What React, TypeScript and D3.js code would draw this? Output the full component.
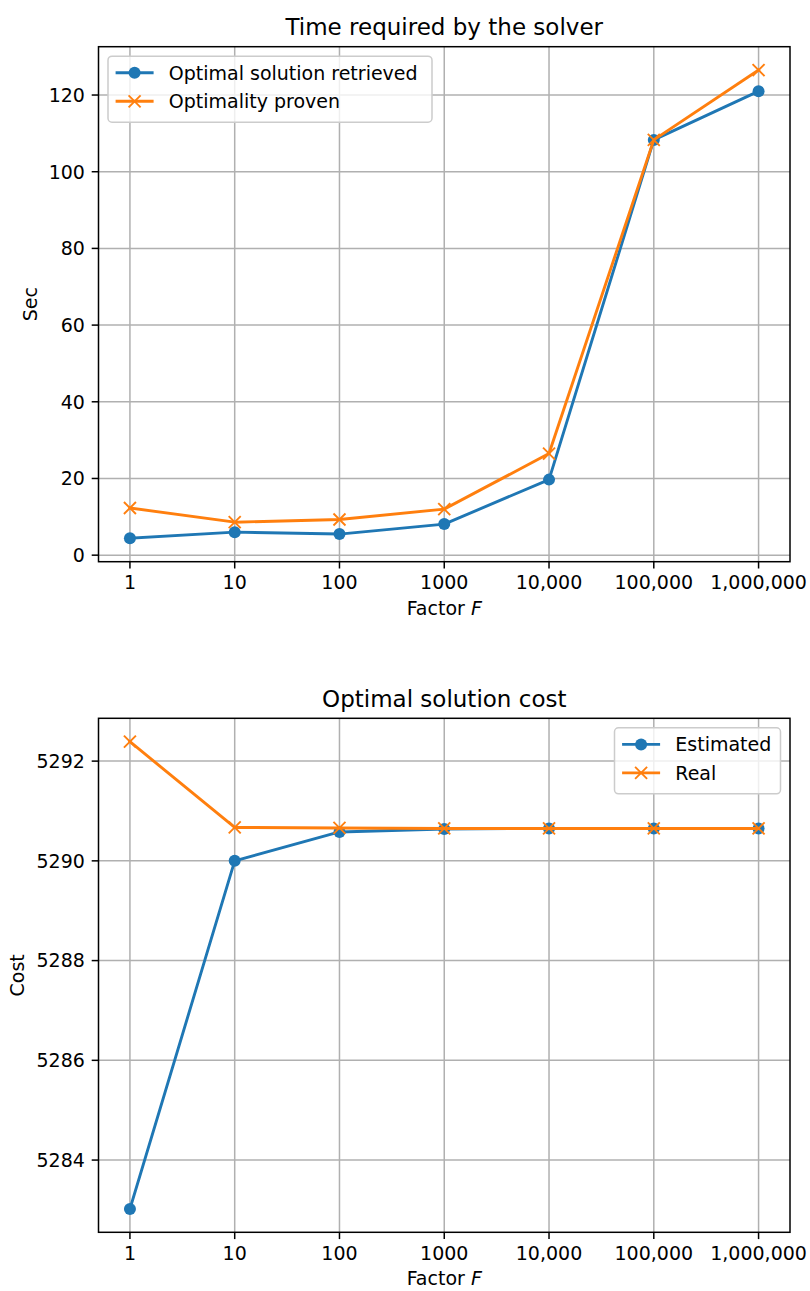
import React from "react";
import * as d3 from "d3";

const factorLabels = ["1", "10", "100", "1000", "10,000", "100,000", "1,000,000"];

const timeRetrieved = [4.4, 6.0, 5.5, 8.1, 19.7, 108.3, 121.0];
const timeProven = [12.3, 8.6, 9.3, 12.0, 26.5, 108.3, 126.5];
const timeTicks = [0, 20, 40, 60, 80, 100, 120];

const costEstimated = [5283.02, 5290.0, 5290.58, 5290.64, 5290.65, 5290.65, 5290.65];
const costReal = [5292.39, 5290.67, 5290.66, 5290.65, 5290.65, 5290.65, 5290.65];
const costTicks = [5284, 5286, 5288, 5290, 5292];

const BLUE = "#1f77b4";
const ORANGE = "#ff7f0e";
const FONT = "DejaVu Sans, sans-serif";
const FS = 19;

type Series = { name: string; values: number[]; color: string; marker: "o" | "x" };

function Marker({ kind, x, y, color }: { kind: "o" | "x"; x: number; y: number; color: string }) {
  if (kind === "o") return <circle cx={x} cy={y} r={6} fill={color} />;
  const s = 6;
  return (
    <g stroke={color} strokeWidth={1.9}>
      <line x1={x - s} y1={y - s} x2={x + s} y2={y + s} />
      <line x1={x - s} y1={y + s} x2={x + s} y2={y - s} />
    </g>
  );
}

function Panel(props: {
  top: number;
  bottom: number;
  title: string;
  ylabel: string;
  ylabelX: number;
  ticks: number[];
  series: Series[];
  legend: "left" | "right";
  legendWidth: number;
}) {
  const { top, bottom, title, ylabel, ylabelX, ticks, series, legend, legendWidth } = props;
  const left = 98.5;
  const right = 790;
  const x = d3.scaleLinear().domain([-0.3, factorLabels.length - 1 + 0.3]).range([left, right]);
  const all = series.flatMap((s) => s.values);
  const [mn, mx] = d3.extent(all) as [number, number];
  const pad = (mx - mn) * 0.05;
  const y = d3.scaleLinear().domain([mn - pad, mx + pad]).range([bottom, top]);
  const line = d3
    .line<number>()
    .x((_, i) => x(i))
    .y((v) => y(v));

  const legRowH = 28.5;
  const legH = 66;
  const legX = legend === "left" ? left + 9.5 : right - 9.5 - legendWidth;
  const legY = top + 9.5;

  return (
    <g fontFamily={FONT}>
      <clipPath id={`clip-${top}`}>
        <rect x={left} y={top} width={right - left} height={bottom - top} />
      </clipPath>
      <g stroke="#b0b0b0" strokeWidth={1.5}>
        {factorLabels.map((_, i) => (
          <line key={i} x1={x(i)} x2={x(i)} y1={top} y2={bottom} />
        ))}
        {ticks.map((t) => (
          <line key={t} x1={left} x2={right} y1={y(t)} y2={y(t)} />
        ))}
      </g>
      <g clipPath={`url(#clip-${top})`}>
        {series.map((s) => (
          <g key={s.name}>
            <path d={line(s.values) || ""} fill="none" stroke={s.color} strokeWidth={2.9} strokeLinejoin="round" strokeLinecap="square" />
            {s.values.map((v, i) => (
              <Marker key={i} kind={s.marker} x={x(i)} y={y(v)} color={s.color} />
            ))}
          </g>
        ))}
      </g>
      <rect x={left} y={top} width={right - left} height={bottom - top} fill="none" stroke="#000" strokeWidth={1.5} />
      {factorLabels.map((lab, i) => (
        <g key={lab}>
          <line x1={x(i)} x2={x(i)} y1={bottom} y2={bottom + 6.8} stroke="#000" strokeWidth={1.5} />
          <text x={x(i)} y={bottom + 27.5} textAnchor="middle" fontSize={FS} fill="#000">
            {lab}
          </text>
        </g>
      ))}
      {ticks.map((t) => (
        <g key={t}>
          <line x1={left - 6.8} x2={left} y1={y(t)} y2={y(t)} stroke="#000" strokeWidth={1.5} />
          <text x={left - 13.6} y={y(t)} dy="0.36em" textAnchor="end" fontSize={FS} fill="#000">
            {t}
          </text>
        </g>
      ))}
      <text x={(left + right) / 2} y={bottom + 53} textAnchor="middle" fontSize={FS} fill="#000">
        Factor <tspan fontStyle="italic">F</tspan>
      </text>
      <text
        transform={`translate(${ylabelX},${(top + bottom) / 2}) rotate(-90)`}
        textAnchor="middle"
        fontSize={FS}
        fill="#000"
      >
        {ylabel}
      </text>
      <text x={(left + right) / 2} y={top - 11.7} textAnchor="middle" fontSize={23} fill="#000">
        {title}
      </text>
      <g>
        <rect
          x={legX}
          y={legY}
          width={legendWidth}
          height={legH}
          rx={4}
          fill="#ffffff"
          fillOpacity={0.8}
          stroke="#cccccc"
          strokeWidth={1.5}
        />
        {series.map((s, i) => {
          const cy = legY + 7.6 + 9 + i * legRowH;
          const hx0 = legX + 7.6;
          const hx1 = hx0 + 38;
          return (
            <g key={s.name}>
              <line x1={hx0} x2={hx1} y1={cy} y2={cy} stroke={s.color} strokeWidth={2.9} />
              <Marker kind={s.marker} x={(hx0 + hx1) / 2} y={cy} color={s.color} />
              <text x={hx1 + 15.2} y={cy} dy="0.36em" fontSize={FS} fill="#000">
                {s.name}
              </text>
            </g>
          );
        })}
      </g>
    </g>
  );
}

export default function App() {
  return (
    <svg width={810} height={1291} style={{ position: "absolute", left: 0, top: 0, background: "#fff" }}>
      <rect width={810} height={1291} fill="#fff" />
      <Panel
        top={46.7}
        bottom={561.7}
        title="Time required by the solver"
        ylabel="Sec"
        ylabelX={37}
        ticks={timeTicks}
        legend="left"
        legendWidth={324}
        series={[
          { name: "Optimal solution retrieved", values: timeRetrieved, color: BLUE, marker: "o" },
          { name: "Optimality proven", values: timeProven, color: ORANGE, marker: "x" },
        ]}
      />
      <Panel
        top={718.3}
        bottom={1232.3}
        title="Optimal solution cost"
        ylabel="Cost"
        ylabelX={24}
        ticks={costTicks}
        legend="right"
        legendWidth={166}
        series={[
          { name: "Estimated", values: costEstimated, color: BLUE, marker: "o" },
          { name: "Real", values: costReal, color: ORANGE, marker: "x" },
        ]}
      />
    </svg>
  );
}
